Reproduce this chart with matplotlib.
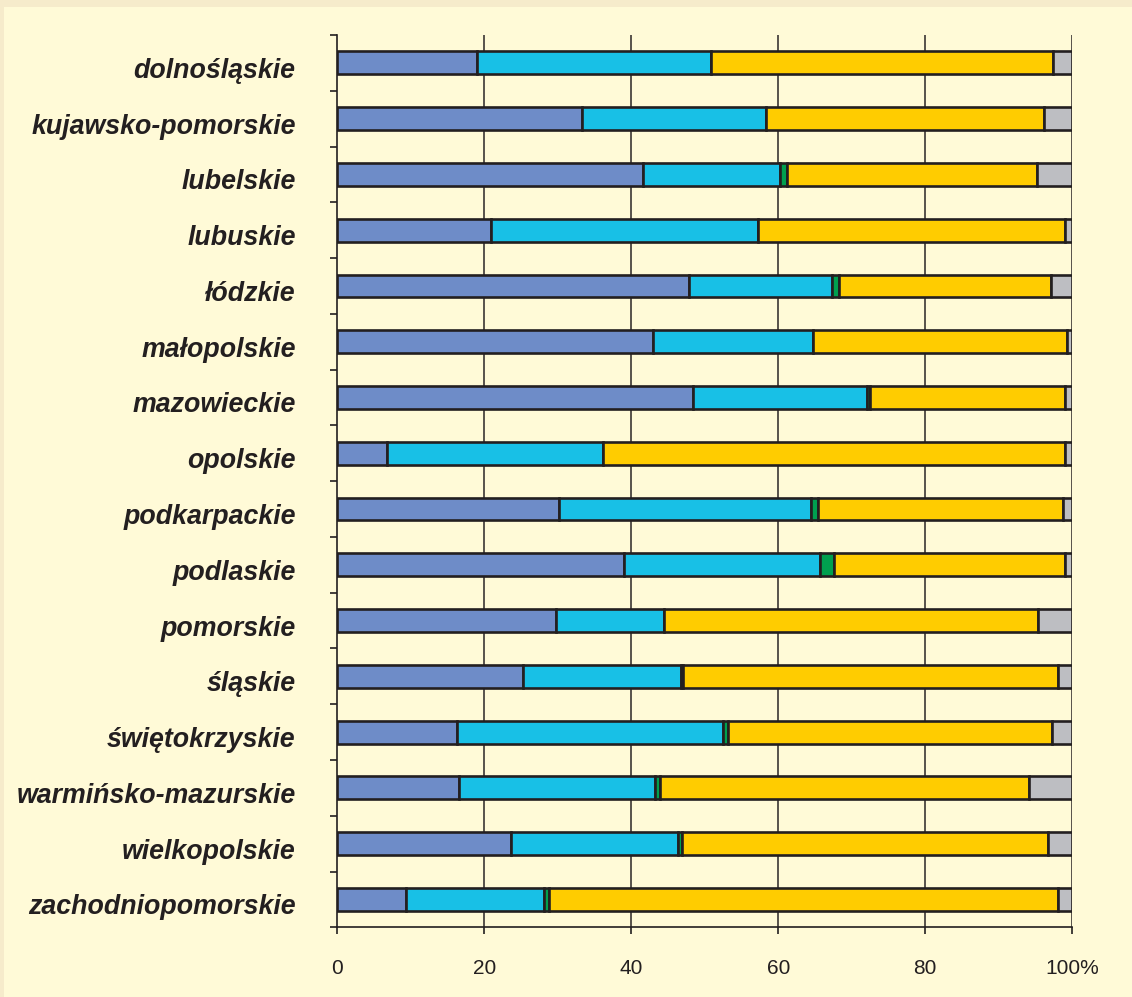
import matplotlib
matplotlib.use("Agg")
import matplotlib.pyplot as plt
import matplotlib.transforms as mtransforms
from matplotlib.patches import Rectangle
import numpy as np

regions = ["dolnośląskie", "kujawsko-pomorskie", "lubelskie", "lubuskie", "łódzkie",
           "małopolskie", "mazowieckie", "opolskie", "podkarpackie", "podlaskie",
           "pomorskie", "śląskie", "świętokrzyskie", "warmińsko-mazurskie",
           "wielkopolskie", "zachodniopomorskie"]

s_blue   = [19.0, 33.3, 41.6, 20.9, 47.8, 42.9, 48.4, 6.7, 30.1, 39.0, 29.8, 25.3, 16.3, 16.6, 23.7, 9.3]
s_cyan   = [31.9, 25.0, 18.6, 36.4, 19.5, 21.8, 23.6, 29.5, 34.3, 26.7, 14.7, 21.5, 36.2, 26.6, 22.7, 18.8]
s_green  = [0.0, 0.0, 1.0, 0.0, 1.0, 0.0, 0.5, 0.0, 1.0, 1.9, 0.0, 0.3, 0.6, 0.7, 0.5, 0.7]
s_yellow = [46.5, 37.8, 34.0, 41.7, 28.8, 34.6, 26.5, 62.8, 33.3, 31.4, 50.9, 50.9, 44.2, 50.2, 49.8, 69.2]
s_gray   = [2.6, 3.9, 4.8, 1.0, 2.9, 0.7, 1.0, 1.0, 1.3, 1.0, 4.6, 2.0, 2.7, 5.9, 3.3, 2.0]

xticks = [0, 20, 40, 60, 80, 100]
xticklabels = ["0", "20", "40", "60", "80", "100%"]

series = [s_blue, s_cyan, s_green, s_yellow, s_gray]
colors = ["#6E8CC8", "#18C0E6", "#00A04F", "#FFCC00", "#BDBEC2"]
edge = "#231F20"
txt = "#231F20"

fig = plt.figure(figsize=(11.32, 9.97), dpi=100)
fig.patch.set_facecolor("#F6EBCB")
fig.patches.append(Rectangle((4 / 1132, 0), 1, 1 - 7 / 997, transform=fig.transFigure,
                             facecolor="#FFFAD7", edgecolor="none", zorder=-10))

ax = fig.add_axes([337.3 / 1132, (997 - 927.3) / 997, (1072.3 - 337.3) / 1132, (927.3 - 35) / 997])
ax.set_facecolor("none")

y = np.arange(len(regions))
left = np.zeros(len(regions))
for vals, c in zip(series, colors):
    v = np.array(vals)
    ax.barh(y, v, left=left, height=0.41, color=c, edgecolor=edge, linewidth=1.9, zorder=3)
    left += v

ax.set_xlim(0, 100)
ax.set_ylim(len(regions) - 0.5, -0.5)

for xv in xticks[1:]:
    ax.axvline(xv, color="#4A4540", linewidth=1.3, zorder=1)

for s in ["top", "right"]:
    ax.spines[s].set_visible(False)
for s in ["left", "bottom"]:
    ax.spines[s].set_color(edge)
    ax.spines[s].set_linewidth(1.2)

ax.set_xticks(xticks)
ax.set_xticklabels(xticklabels, fontsize=15, color=txt, family="Liberation Sans")
ax.tick_params(axis="x", direction="out", length=5, width=1.2, color=edge, pad=18)

ax.set_yticks(y)
ax.set_yticklabels(regions, fontsize=19.3, color=txt, family="Liberation Sans",
                   fontweight="bold", fontstyle="italic")
ax.tick_params(axis="y", which="major", length=0, pad=30)
ax.set_yticks(np.arange(len(regions) + 1) - 0.5, minor=True)
ax.tick_params(axis="y", which="minor", direction="out", length=5, width=1.2, color=edge)

offset = mtransforms.ScaledTranslation(0, -5 / 100, fig.dpi_scale_trans)
for lab in ax.get_yticklabels():
    lab.set_transform(lab.get_transform() + offset)

fig.savefig("out.png", dpi=100, facecolor=fig.get_facecolor())
